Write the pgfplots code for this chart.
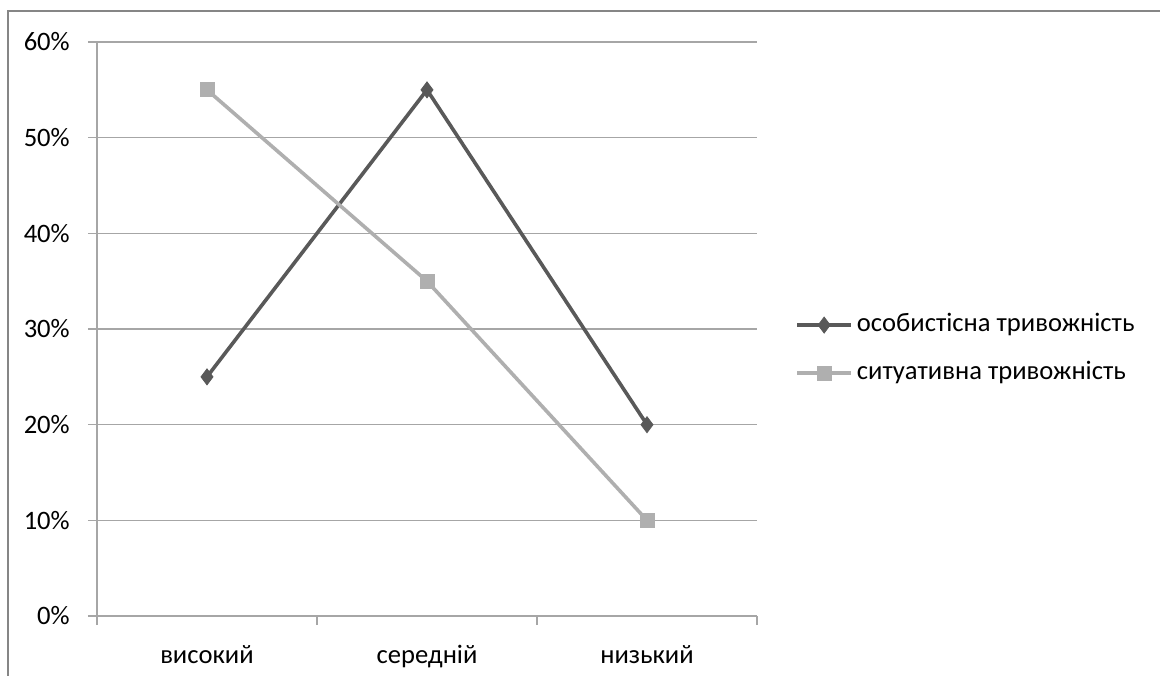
\documentclass[border=0pt]{standalone}
\usepackage{fontspec}
\setmainfont{Carlito}
\usepackage{pgfplots}
\pgfplotsset{compat=1.18}
\definecolor{darkser}{RGB}{89,89,89}
\definecolor{lightser}{RGB}{175,175,175}
\definecolor{gridc}{RGB}{166,166,166}
\definecolor{framec}{RGB}{134,134,134}
\begin{document}
\fontsize{13.3bp}{16bp}\selectfont
\begin{tikzpicture}
\useasboundingbox (0,0) rectangle (580bp,338bp);
\draw[framec, line width=1bp] (4bp,0) -- (4bp,332.5bp) -- (580bp,332.5bp);
\begin{axis}[
 at={(48.5bp,30bp)}, anchor=south west,
 scale only axis, width=330bp, height=287bp,
 xmin=-0.5, xmax=2.5, ymin=0, ymax=60,
 axis x line=bottom, axis y line=left,
 axis line style={gridc, line width=0.75bp, -},
 xtick={-0.5,0.5,1.5,2.5}, xticklabels={},
 extra x ticks={0,1,2}, extra x tick labels={високий,середній,низький},
 extra x tick style={major tick length=0pt, xticklabel style={yshift=-10bp}},
 ytick={0,10,...,60}, yticklabel={\pgfmathprintnumber{\tick}\%},
 yticklabel style={xshift=-4.5bp},
 /pgf/number format/assume math mode=true,
 ymajorgrids, grid style={gridc, line width=0.75bp},
 tick style={gridc, line width=0.75bp},
 tick align=outside, major tick length=4.5bp,
 tick label style={font=\fontsize{13.3bp}{16bp}\selectfont, text=black},
 legend style={at={(1.0575,0.465)}, anchor=west, draw=none, fill=none,
   inner sep=0pt, row sep=12bp, column sep=2bp,
   nodes={inner sep=0pt, text height=9bp, text depth=3bp},
   font=\fontsize{13.3bp}{16bp}\selectfont},
 legend cell align=left,
 legend image code/.code={\draw[mark repeat=2, mark phase=2] plot coordinates {(0bp,0bp) (13.5bp,0bp) (27bp,0bp)};},
]
\addplot[darkser, line width=1.8bp, mark=diamond*, mark size=4bp, mark options={solid, line width=0.4bp}] coordinates {(0,25) (1,55) (2,20)};
\addlegendentry{особистісна тривожність}
\addplot[lightser, line width=1.8bp, mark=square*, mark size=3.5bp, mark options={solid, line width=0.4bp}] coordinates {(0,55) (1,35) (2,10)};
\addlegendentry{ситуативна тривожність}
\end{axis}
\end{tikzpicture}
\end{document}
